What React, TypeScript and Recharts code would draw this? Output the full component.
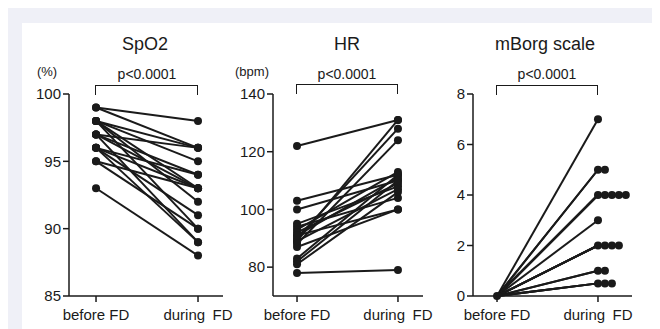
import React from "react";
import { ComposedChart, Line, Scatter, XAxis, YAxis } from "recharts";

const categories = ["before FD", "during\u2002FD"];

const spo2Before = [99, 99, 98, 98, 98, 98, 98, 97, 97, 97, 97, 96, 96, 96, 96, 95, 95, 93];
const spo2During = [98, 96, 96, 95, 93, 92, 90, 96, 94, 93, 89, 94, 93, 91, 89, 93, 90, 88];

const hrBefore = [122, 103, 100, 95, 94, 93, 92, 91, 90, 89, 88, 87, 89, 83, 82, 81, 78, 91];
const hrDuring = [131, 112, 110, 108, 104, 113, 109, 111, 128, 107, 124, 100, 131, 112, 110, 106, 79, 100];

const borgBefore = [0, 0, 0, 0, 0, 0, 0, 0, 0, 0, 0, 0, 0, 0, 0, 0, 0, 0];
const borgDuring = [7, 5, 5, 4, 4, 4, 4, 4, 3, 2, 2, 2, 2, 1, 1, 0.5, 0.5, 0.5];

const spo2Ticks = [85, 90, 95, 100];
const hrTicks = [80, 100, 120, 140];
const borgTicks = [0, 2, 4, 6, 8];

const FONT = "'Liberation Sans', Arial, sans-serif";
const INK = "#1a1a1a";

// page coords -> coords inside the bordered frame
const px = (x: number) => x - 7;
const py = (y: number) => y - 8;

type Pt = { x: number; y: number };

function buildPoints(before: number[], during: number[], jitter: boolean): Pt[] {
  const pts: Pt[] = [];
  const seenB: Record<string, number> = {};
  const seenD: Record<string, number> = {};
  before.forEach((v) => {
    const k = seenB[v] || 0;
    seenB[v] = k + 1;
    if (!jitter || k === 0) pts.push({ x: 0, y: v });
  });
  during.forEach((v) => {
    const k = seenD[v] || 0;
    seenD[v] = k + 1;
    pts.push({ x: jitter ? 1 + k * 0.069 : 1, y: v });
  });
  return pts;
}

function CatTick(props: any) {
  const { x, y, payload } = props;
  return (
    <text x={x} y={y + 16} textAnchor="middle" fill={INK} fontSize={15} fontFamily={FONT}>
      {categories[payload.value]}
    </text>
  );
}

interface PanelProps {
  left: number;
  width: number;
  yWidth: number;
  marginRight: number;
  xDomain: [number, number];
  yDomain: [number, number];
  yTicks: number[];
  before: number[];
  during: number[];
  jitter?: boolean;
}

function Panel({ left, width, yWidth, marginRight, xDomain, yDomain, yTicks, before, during, jitter }: PanelProps) {
  const points = buildPoints(before, during, !!jitter);
  return (
    <div style={{ position: "absolute", left: px(left), top: py(84) }}>
      <ComposedChart
        width={width}
        height={246}
        margin={{ top: 10, right: marginRight, bottom: 0, left: 0 }}
        style={{ overflow: "visible" }}
      >
        <XAxis
          type="number"
          dataKey="x"
          domain={xDomain}
          ticks={[0, 1]}
          allowDataOverflow
          height={34}
          tickSize={6}
          axisLine={{ stroke: INK, strokeWidth: 1.5 }}
          tickLine={{ stroke: INK, strokeWidth: 1.5 }}
          tick={<CatTick />}
        />
        <YAxis
          type="number"
          dataKey="y"
          domain={yDomain}
          ticks={yTicks}
          width={yWidth}
          tickSize={6}
          axisLine={{ stroke: INK, strokeWidth: 1.5 }}
          tickLine={{ stroke: INK, strokeWidth: 1.5 }}
          tick={{ fill: INK, fontSize: 15, fontFamily: FONT }}
        />
        {before.map((b, i) => (
          <Line
            key={i}
            data={[
              { x: 0, y: b },
              { x: 1, y: during[i] },
            ]}
            dataKey="y"
            stroke={INK}
            strokeWidth={2}
            dot={false}
            isAnimationActive={false}
          />
        ))}
        <Scatter
          data={points}
          dataKey="y"
          fill={INK}
          shape={(p: any) => <circle cx={p.cx} cy={p.cy} r={4} fill={INK} />}
          isAnimationActive={false}
        />
      </ComposedChart>
    </div>
  );
}

function Label({ text, cx, cy, size }: { text: string; cx: number; cy: number; size: number }) {
  return (
    <div
      style={{
        position: "absolute",
        left: px(cx) - 100,
        top: py(cy) - size * 0.6,
        width: 200,
        textAlign: "center",
        fontFamily: FONT,
        fontSize: size,
        lineHeight: `${size * 1.2}px`,
        color: INK,
        whiteSpace: "pre",
      }}
    >
      {text}
    </div>
  );
}

function Bracket({ x1, x2, y }: { x1: number; x2: number; y: number }) {
  return (
    <div
      style={{
        position: "absolute",
        left: px(x1) - 0.75,
        top: py(y),
        width: x2 - x1 - 1.5,
        height: 9,
        borderTop: `1.5px solid ${INK}`,
        borderLeft: `1.5px solid ${INK}`,
        borderRight: `1.5px solid ${INK}`,
      }}
    />
  );
}

export default function App() {
  return (
    <div
      style={{
        position: "relative",
        width: 653,
        height: 321,
        margin: "-1px 0 0 -2px",
        background: "#eff0f7",
        borderTop: "1px solid #a9a9a9",
        borderLeft: "1px solid #a9a9a9",
        overflow: "hidden",
      }}
    >
      <div style={{ position: "absolute", left: px(22), top: py(23), width: 630, height: 320, background: "#ffffff" }} />

      <Label text="SpO2" cx={145} cy={45} size={18} />
      <Label text="HR" cx={347} cy={45} size={18} />
      <Label text="mBorg scale" cx={545} cy={45} size={18} />

      <Label text="(%)" cx={47} cy={72} size={13} />
      <Label text="(bpm)" cx={252} cy={72} size={13} />

      <Label text="p<0.0001" cx={147} cy={74} size={14} />
      <Label text="p<0.0001" cx={347} cy={74} size={14} />
      <Label text="p<0.0001" cx={547} cy={74} size={14} />

      <Bracket x1={96} x2={198} y={85} />
      <Bracket x1={297} x2={398} y={84} />
      <Bracket x1={497} x2={598} y={85} />

      <Panel
        left={10}
        width={240}
        yWidth={59}
        marginRight={27}
        xDomain={[-0.265, 1.245]}
        yDomain={[85, 100]}
        yTicks={spo2Ticks}
        before={spo2Before}
        during={spo2During}
      />
      <Panel
        left={212}
        width={240}
        yWidth={61}
        marginRight={29}
        xDomain={[-0.238, 1.248]}
        yDomain={[70, 140]}
        yTicks={hrTicks}
        before={hrBefore}
        during={hrDuring}
      />
      <Panel
        left={412}
        width={240}
        yWidth={61}
        marginRight={20}
        xDomain={[-0.238, 1.337]}
        yDomain={[0, 8]}
        yTicks={borgTicks}
        before={borgBefore}
        during={borgDuring}
        jitter
      />
    </div>
  );
}
